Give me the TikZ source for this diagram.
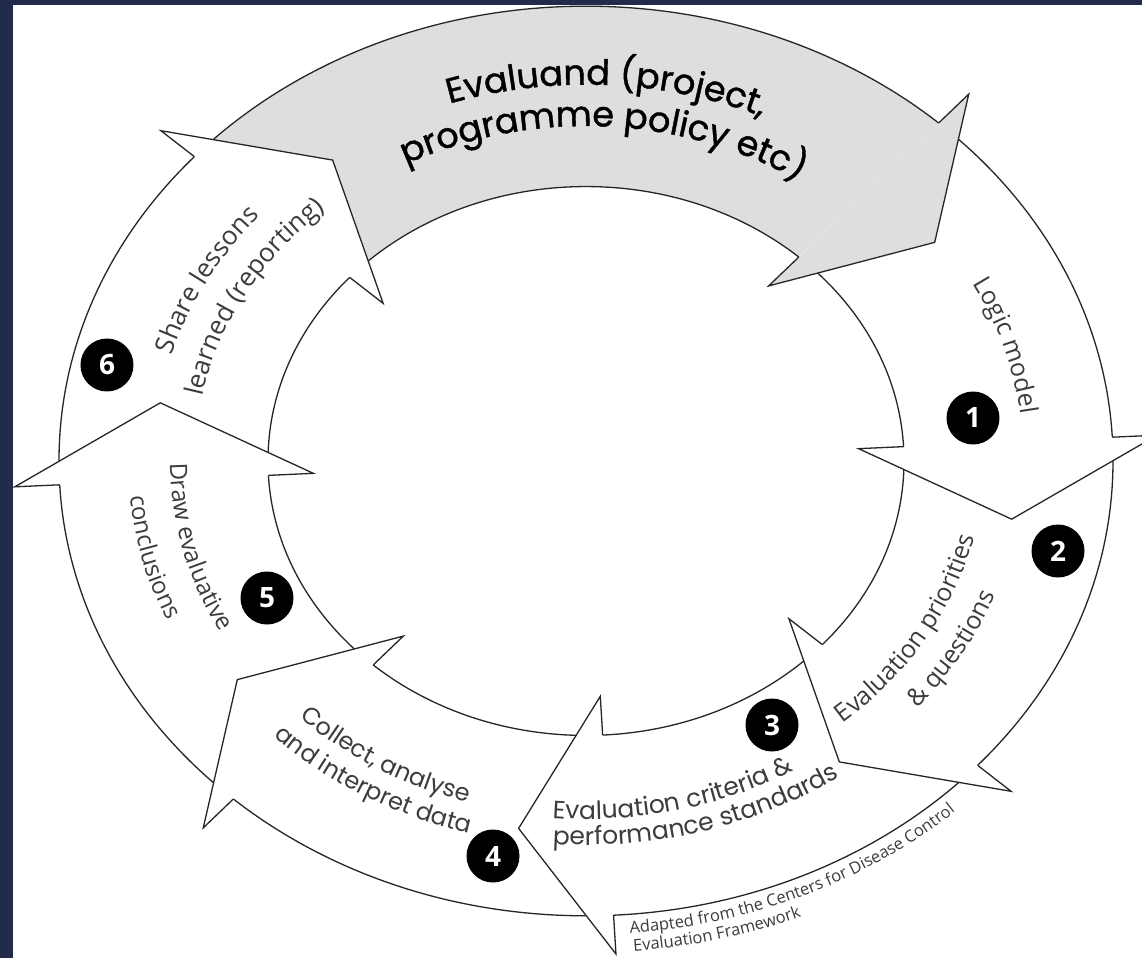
\documentclass[tikz,border=0pt]{standalone}
\usepackage{fontspec}
\setmainfont{Open Sans}
\newfontfamily\evalfont{Poppins}
\newfontfamily\evalbold[FakeBold=1.2]{Poppins}
\usetikzlibrary{decorations.text}
\definecolor{navy}{RGB}{34,43,75}
\definecolor{evalgrey}{RGB}{222,222,222}
\definecolor{lblgrey}{RGB}{60,60,60}

% text set on an arc of the ring (radius, start angle, end angle, text)
\newcommand\ringtext[5][center]{%
  \path[ringlbl={#5}, decoration={text align=#1}] (#3:#2 and 0.863*#2)
    arc[start angle=#3, end angle=#4, x radius=#2, y radius=0.863*#2];}

\begin{document}
\begin{tikzpicture}[x=1pt, y=1pt, line width=1.3pt, line join=miter,
    ringlbl/.style={decorate, decoration={text along path, text align=center, text color=lblgrey, text={#1}}},
    numdot/.style={circle, fill=black, text=white, minimum size=53pt, inner sep=0pt, font=\fontsize{28}{28}\selectfont\bfseries}]
  \useasboundingbox (-586,-497) rectangle (556,461);
  \clip (-586,-497) rectangle (556,461);
  \fill[navy] (-586,-497) rectangle (556,461);
  \fill[white] (-573,-497) rectangle (556,456);

  % ring of arrows
  \begin{scope}[yscale=0.863, draw=black!85]
    \foreach \t/\h/\c in {138/48/evalgrey, 48/3/white, 3/-42/white, -42/-87/white,
                          -87/-132/white, -132/-177/white, -177/-222/white}
      \fill[\c] (\t:527) arc[start angle=\t, end angle=\h, radius=527] -- (\h:318)
        arc[start angle=\h, end angle=\t, radius=318] -- cycle;
    \draw (0,0) circle[radius=527] (0,0) circle[radius=318];
    \foreach \h/\c in {48/evalgrey, 3/white, -42/white, -87/white, -132/white, -177/white, -222/white}{
      \fill[\c] (\h:527) -- (\h:572) -- ({\h-12}:431) -- (\h:273) -- (\h:318) -- cycle;
      \draw (\h:527) -- (\h:572) -- ({\h-12}:431) -- (\h:273) -- (\h:318);
    }
  \end{scope}

  % labels
  \ringtext{436}{147}{27}{|\color{black}\evalbold\fontsize{35}{40}\selectfont|Evaluand (project,}
  \ringtext{388}{147}{27}{|\color{black}\evalbold\fontsize{35}{40}\selectfont|programme policy etc)}
  \ringtext{438}{47}{-13}{|\fontsize{25}{30}\selectfont|Logic model}
  \ringtext{398}{-60.7}{-0.7}{|\fontsize{25}{30}\selectfont|Evaluation priorities}
  \ringtext{438}{-60}{0}{|\fontsize{25}{30}\selectfont|{\&} questions}
  \ringtext{415}{253}{313}{|\evalfont\fontsize{25}{30}\selectfont|Evaluation criteria {\&}}
  \ringtext{445}{255.5}{315.5}{|\evalfont\fontsize{25}{30}\selectfont|performance standards}
  \ringtext{413}{209}{269}{|\evalfont\fontsize{24}{30}\selectfont|Collect, analyse}
  \ringtext{447}{209.6}{269.6}{|\evalfont\fontsize{24}{30}\selectfont|and interpret data}
  \ringtext{416}{164}{224}{|\fontsize{24}{30}\selectfont|Draw evaluative}
  \ringtext{458}{164}{224}{|\fontsize{24}{30}\selectfont|conclusions}
  \ringtext{432}{182}{122}{|\fontsize{26}{30}\selectfont|Share lessons}
  \ringtext{391}{181}{121}{|\fontsize{26}{30}\selectfont|learned (reporting)}
  \ringtext[left]{549}{274.6}{345}{|\fontsize{16.5}{20}\selectfont|Adapted from the Centers for Disease Control}
  \ringtext[left]{570}{274.8}{335}{|\fontsize{16.5}{20}\selectfont|Evaluation Framework}

  % step numbers
  \node[numdot] (n1) at (387,43) {1};
  \node[numdot] (n2) at (472,-90) {2};
  \node[numdot] (n3) at (186,-264) {3};
  \node[numdot] (n4) at (-93,-395) {4};
  \node[numdot] (n5) at (-319,-137) {5};
  \node[numdot] (n6) at (-479,96) {6};
\end{tikzpicture}
\end{document}
